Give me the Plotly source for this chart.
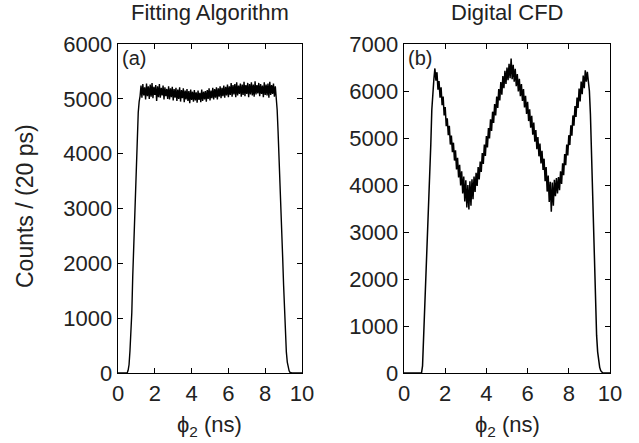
import numpy as np
import plotly.graph_objects as go

# time grid (ns), bin spacing 0.05 ns from 0 to 10
phi_start = 0.0
phi_step = 0.05
n_bins = 201
phi = np.round(phi_start + phi_step * np.arange(n_bins), 2)

# Panel (a): Fitting Algorithm counts
counts_fit = [
    0, 0, 0, 0, 0, 0, 0, 0, 0, 0, 0,                       # 0.00 - 0.50
    50, 150, 400, 650, 1100, 1750, 2300, 2800, 3350, 3900,  # 0.55 - 1.00
    4350, 4750, 4950, 5050,                                 # 1.05 - 1.20
    5240, 5020, 5270, 5060, 5210, 4990, 5280, 5050, 5230, 5000,
    5260, 5040, 5290, 5010, 5220, 5070, 5250, 4960, 5230, 5030,
    5270, 5020, 5200, 5060, 5240, 4990, 5210, 5050, 5180, 5000,
    5230, 4990, 5190, 5030, 5220, 4970, 5180, 5020, 5200, 4960,
    5170, 5000, 5210, 4950, 5160, 5010, 5190, 4940, 5150, 4990,
    5180, 4960, 5140, 4920, 5170, 4980, 5130, 4950, 5160, 4970,
    5120, 4930, 5150, 4980, 5110, 4940, 5170, 4960, 5130, 4990,
    5140, 4950, 5160, 5000, 5190, 4970, 5150, 5010, 5200, 4990,
    5180, 5020, 5210, 4990, 5190, 5040, 5230, 5010, 5200, 5050,
    5240, 5020, 5220, 5060, 5260, 5030, 5230, 5070, 5290, 5040,
    5250, 5080, 5270, 5030, 5300, 5060, 5240, 5090, 5280, 5040,
    5260, 5070, 5310, 5050, 5250, 5090, 5290, 5030, 5270, 5080,
    5300, 5060, 5260, 5040, 5320, 5080, 5250, 5100, 5290, 5050,
    5270, 5090, 5240, 5030, 5300, 5070, 5260, 5060, 5280, 5020,
    5310, 5070, 5250, 5090, 5280, 5040, 5230,               # 8.25 - 8.55
    5050, 4800, 4400, 4000, 3600, 3150, 2700, 2100, 1600,   # 8.60 - 9.00
    1100, 650, 380, 200, 100, 40, 10,                       # 9.05 - 9.35
    0, 0, 0, 0, 0, 0, 0, 0, 0, 0, 0, 0, 0,                  # 9.40 - 10.0
]

# Panel (b): Digital CFD counts
counts_cfd = [
    0, 0, 0, 0, 0, 0, 0, 0, 0, 0, 0, 0, 0, 0, 0, 0, 0, 0,  # 0.00 - 0.85
    150, 700, 1400, 2000, 2700, 3300, 3800, 4250, 4850, 5600, 6100,  # 0.90 - 1.40
    6250, 6480, 6220, 6400, 6030, 6210, 5860, 6080, 5700, 5880,
    5480, 5660, 5250, 5420, 5060, 5260, 4860, 5050, 4700, 4900,
    4520, 4740, 4330, 4580, 4160, 4430, 3990, 4290, 3820, 4180,
    3650, 4100, 3520, 4000, 3480, 4080, 3560, 4120, 3700, 4180,
    3850, 4260, 3980, 4380, 4120, 4500, 4280, 4680, 4450, 4860,
    4620, 5040, 4800, 5210, 4990, 5400, 5150, 5560, 5320, 5720,
    5480, 5880, 5640, 6040, 5800, 6190, 5920, 6320, 6060, 6430,
    6150, 6500, 6230, 6580, 6270, 6690, 6250, 6560, 6200, 6470,
    6100, 6360, 5990, 6260, 5890, 6150, 5790, 6040, 5650, 5900,
    5510, 5770, 5360, 5610, 5220, 5470, 5070, 5330, 4920, 5170,
    4760, 5020, 4610, 4880, 4460, 4730, 4320, 4560, 4080, 4380,
    3860, 4200, 3640, 4070, 3430, 4050, 3560, 4110, 3760, 4150,
    3820, 4170, 3890, 4290, 4020, 4460, 4210, 4660, 4420, 4860,
    4630, 5060, 4850, 5270, 5050, 5480, 5260, 5680, 5450, 5860,
    5640, 6050, 5780, 6200, 5930, 6330, 6060, 6440, 6200, 6410,  # 8.45 - 8.90
    6200, 6000, 5500, 4700, 3700, 2800, 2000, 1300, 800, 450,     # 8.95 - 9.40
    250, 120, 50, 10,                                             # 9.45 - 9.60
    0, 0, 0, 0, 0, 0, 0, 0,                                       # 9.65 - 10.0
]

panel_titles = ["Fitting Algorithm", "Digital CFD"]
panel_tags = ["(a)", "(b)"]
x_ticks = [0, 2, 4, 6, 8, 10]
y_ticks_a = [0, 1000, 2000, 3000, 4000, 5000, 6000]
y_ticks_b = [0, 1000, 2000, 3000, 4000, 5000, 6000, 7000]

FONT = "Liberation Sans, Arial, Helvetica, sans-serif"
W, H = 639, 443
dom_a = [118 / W, 302 / W]
dom_b = [404 / W, 610 / W]
dom_y = [(H - 373) / H, (H - 44) / H]

fig = go.Figure()
fig.add_trace(go.Scatter(x=phi, y=counts_fit, mode="lines",
                         line=dict(color="black", width=1.4),
                         xaxis="x", yaxis="y", showlegend=False))
fig.add_trace(go.Scatter(x=phi, y=counts_cfd, mode="lines",
                         line=dict(color="black", width=1.5),
                         xaxis="x2", yaxis="y2", showlegend=False))

axis_common = dict(showline=True, linecolor="black", linewidth=1.3, mirror="ticks",
                   ticks="inside", ticklen=5, tickcolor="black", tickwidth=1,
                   showgrid=False, zeroline=False,
                   tickfont=dict(family=FONT, size=22, color="#222"))

fig.update_layout(
    width=W, height=H,
    margin=dict(l=0, r=0, t=0, b=0, autoexpand=False),
    paper_bgcolor="white", plot_bgcolor="white",
    showlegend=False,
    xaxis=dict(domain=dom_a, range=[0, 10], tickvals=x_ticks, anchor="y", **axis_common),
    yaxis=dict(domain=dom_y, range=[0, 6000], tickvals=y_ticks_a, anchor="x", **axis_common),
    xaxis2=dict(domain=dom_b, range=[0, 10], tickvals=x_ticks, anchor="y2", **axis_common),
    yaxis2=dict(domain=dom_y, range=[0, 7000], tickvals=y_ticks_b, anchor="x2", **axis_common),
)

ann_font = dict(family=FONT, size=22, color="#222")
centers = [(dom_a[0] + dom_a[1]) / 2, (dom_b[0] + dom_b[1]) / 2]
for c, t in zip(centers, panel_titles):
    fig.add_annotation(text=t, x=c, y=1 - 12 / H, xref="paper", yref="paper",
                       showarrow=False, font=ann_font, xanchor="center", yanchor="middle")
    fig.add_annotation(text="\u03d5<sub>2</sub> (ns)", x=c, y=1 - 426 / H, xref="paper", yref="paper",
                       showarrow=False, font=ann_font, xanchor="center", yanchor="middle")
for dx, tag in zip([dom_a[0], dom_b[0]], panel_tags):
    fig.add_annotation(text=tag, x=dx + 2 / W, y=dom_y[1] - 1 / H, xref="paper", yref="paper",
                       showarrow=False, font=dict(family=FONT, size=20, color="#222"),
                       xanchor="left", yanchor="top")
fig.add_annotation(text="Counts / (20 ps)", x=25 / W, y=1 - 206 / H, xref="paper", yref="paper",
                   showarrow=False, font=dict(family=FONT, size=23, color="#222"), textangle=-90,
                   xanchor="center", yanchor="middle")

fig.write_html("out.html",
               config={"displayModeBar": False, "staticPlot": True},
               post_script="document.body.style.margin='0';document.body.style.overflow='hidden';")
